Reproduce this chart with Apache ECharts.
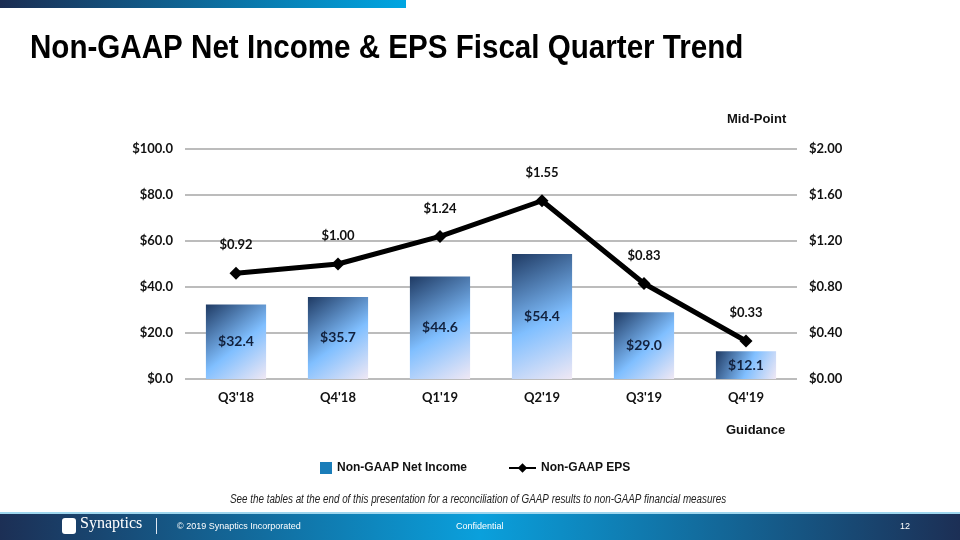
<!DOCTYPE html>
<html><head><meta charset="utf-8">
<script src="https://cdn.jsdelivr.net/npm/echarts@6/dist/echarts.min.js"></script>
<style>html,body{margin:0;padding:0;background:#fff}#c{width:960px;height:540px}</style>
</head><body><div id="c"></div>
<script>
var categories = ["Q3'18","Q4'18","Q1'19","Q2'19","Q3'19","Q4'19"];
var netIncome = [32.4, 35.7, 44.6, 54.4, 29.0, 12.1];
var eps = [0.92, 1.00, 1.24, 1.55, 0.83, 0.33];
var leftTicks = [0, 20, 40, 60, 80, 100];
var rightTicks = [0, 0.4, 0.8, 1.2, 1.6, 2.0];

var chart = echarts.init(document.getElementById('c'));
var labelFont = 'Lato, "Open Sans", sans-serif';
var legendFont = {fontFamily: '"Liberation Sans", Arial, sans-serif', fontWeight: 'bold', fontSize: 12, color: '#111'};
var barGrad = new echarts.graphic.LinearGradient(0, 0, 1, 1, [
  {offset: 0, color: '#1f3a63'},
  {offset: 0.55, color: '#80bfff'},
  {offset: 1, color: '#f0e8f4'}
]);
chart.setOption({
  animation: false,
  grid: {left: 185, right: 163, top: 149, bottom: 161},
  xAxis: {
    type: 'category', data: categories,
    axisLine: {show: false}, axisTick: {show: false},
    axisLabel: {color: '#111', fontWeight: 'bold', fontSize: 13, fontFamily: labelFont, margin: 12}
  },
  yAxis: [{
    type: 'value', min: leftTicks[0], max: leftTicks[leftTicks.length-1], interval: 20,
    axisLabel: {color: '#111', fontWeight: 'bold', fontSize: 13, fontFamily: labelFont, margin: 12,
      formatter: function(v){ return '$' + v.toFixed(1); }},
    splitLine: {lineStyle: {color: '#a6a6a6', width: 1.5}},
    axisLine: {show: false}, axisTick: {show: false}
  }, {
    type: 'value', min: rightTicks[0], max: rightTicks[rightTicks.length-1], interval: 0.4,
    axisLabel: {color: '#111', fontWeight: 'bold', fontSize: 13, fontFamily: labelFont, margin: 12,
      formatter: function(v){ return '$' + v.toFixed(2); }},
    splitLine: {show: false}, axisLine: {show: false}, axisTick: {show: false}
  }],
  legend: [{
    top: 457, left: 315, itemWidth: 12, itemHeight: 12, itemGap: 6,
    textStyle: legendFont,
    data: [{name: 'Non-GAAP Net Income', icon: 'rect', itemStyle: {color: '#1a7db9'}}]
  }, {
    top: 457, left: 503, itemWidth: 27, itemHeight: 12,
    textStyle: legendFont,
    data: [{name: 'Non-GAAP EPS'}]
  }],
  series: [{
    name: 'Non-GAAP Net Income', type: 'bar', data: netIncome, barWidth: '59%',
    itemStyle: {color: barGrad},
    label: {show: true, position: 'inside', color: '#12213d', fontWeight: 'bold', fontSize: 14, fontFamily: labelFont,
      formatter: function(p){ return '$' + p.value.toFixed(1); }}
  }, {
    name: 'Non-GAAP EPS', type: 'line', yAxisIndex: 1, data: eps,
    lineStyle: {color: '#000', width: 5}, itemStyle: {color: '#000'},
    symbol: 'diamond', symbolSize: 13,
    label: {show: true, position: 'top', distance: 15, color: '#111', fontWeight: 'bold', fontSize: 13, fontFamily: labelFont,
      formatter: function(p){ return '$' + p.value.toFixed(2); }}
  }],
  graphic: [
    {type: 'rect', left: 0, top: 0, shape: {width: 406, height: 8},
      style: {fill: new echarts.graphic.LinearGradient(0,0,1,0,[{offset:0,color:'#1b2d52'},{offset:1,color:'#00a6e2'}])}},
    {type: 'text', x: 30, y: 32, scaleX: 0.87, style: {text: 'Non-GAAP Net Income & EPS Fiscal Quarter Trend',
      font: 'bold 34px "Liberation Sans", Arial, sans-serif', fill: '#000', verticalAlign: 'top'}},
    {type: 'text', left: 727, top: 113, style: {text: 'Mid-Point', font: 'bold 13px "Liberation Sans", Arial, sans-serif', fill: '#111'}},
    {type: 'text', left: 726, top: 424, style: {text: 'Guidance', font: 'bold 13px "Liberation Sans", Arial, sans-serif', fill: '#111'}},
    {type: 'text', x: 230, y: 494, scaleX: 0.82, style: {text: 'See the tables at the end of this presentation for a reconciliation of GAAP results to non-GAAP financial measures',
      font: 'italic 12px "Liberation Sans", Arial, sans-serif', fill: '#222', verticalAlign: 'top'}},
    {type: 'rect', left: 0, top: 512, shape: {width: 960, height: 28},
      style: {fill: new echarts.graphic.LinearGradient(0,0,1,0,[{offset:0,color:'#1c2f55'},{offset:0.5,color:'#0aa0dc'},{offset:1,color:'#1c2f55'}])}},
    {type: 'rect', left: 0, top: 512, shape: {width: 960, height: 2}, style: {fill: '#9ed6ee'}},
    {type: 'rect', left: 62, top: 518, shape: {width: 14, height: 16, r: 3}, style: {fill: '#fff'}},
    {type: 'text', left: 80, top: 516, style: {text: 'Synaptics', font: '16px "Liberation Serif", serif', fill: '#fff'}},
    {type: 'rect', left: 156, top: 518, shape: {width: 1, height: 16}, style: {fill: '#dfe8f2'}},
    {type: 'text', left: 177, top: 522, style: {text: '\u00a9 2019 Synaptics Incorporated', font: '9px "Liberation Sans", Arial, sans-serif', fill: '#fff'}},
    {type: 'text', left: 456, top: 522, style: {text: 'Confidential', font: '9px "Liberation Sans", Arial, sans-serif', fill: '#fff'}},
    {type: 'text', left: 900, top: 522, style: {text: '12', font: '9px "Liberation Sans", Arial, sans-serif', fill: '#fff'}}
  ]
});
</script></body></html>
